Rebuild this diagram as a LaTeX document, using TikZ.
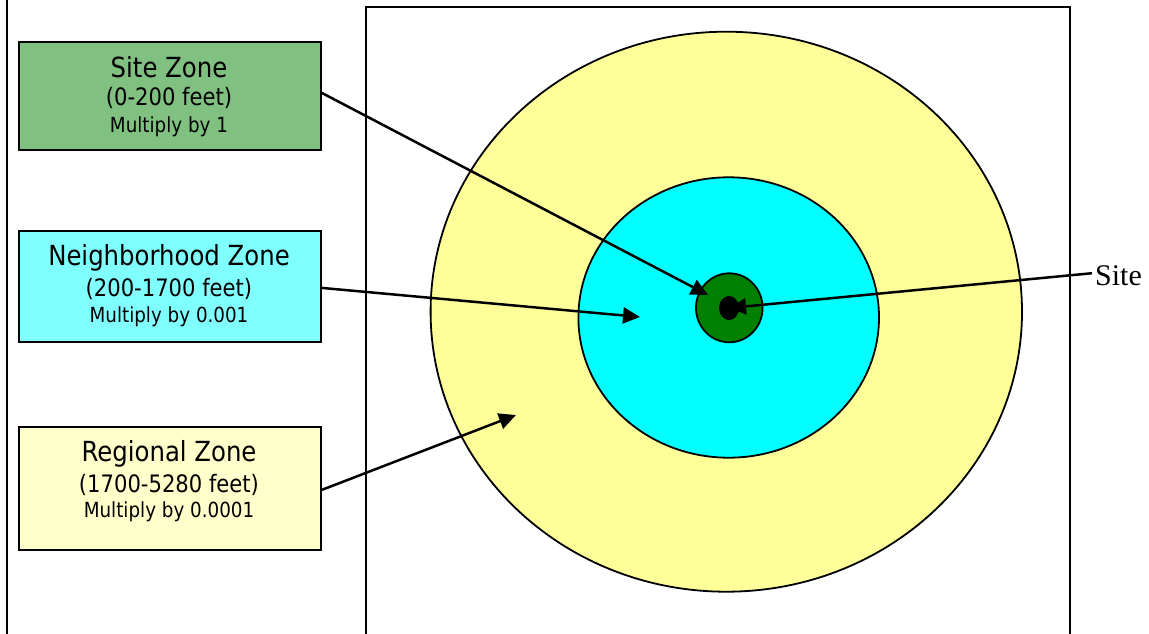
\documentclass[tikz,border=0pt]{standalone}
\usepackage{fontspec}
\setmainfont{Liberation Serif}
\newfontfamily\tah[FakeStretch=0.88]{DejaVu Sans}
\usetikzlibrary{arrows.meta,shapes.geometric}
\definecolor{sitebox}{HTML}{80C080}
\definecolor{neighbox}{HTML}{80FFFF}
\definecolor{regbox}{HTML}{FFFFCC}
\definecolor{regfill}{HTML}{FFFF99}
\definecolor{neighfill}{HTML}{00FFFF}
\definecolor{sitefill}{HTML}{008000}
\begin{document}
\begin{tikzpicture}[x=1pt,y=-1pt,
  zonebox/.style={draw=black, line width=1.8pt, minimum width=302pt, inner sep=0pt, anchor=north west},
  ring/.style={ellipse, draw=black, line width=1.8pt, inner sep=0pt},
  lineA/.style={anchor=base, inner sep=0pt, font=\tah\fontsize{27.7}{30}\selectfont},
  lineB/.style={anchor=base, inner sep=0pt, font=\tah\fontsize{24}{26}\selectfont},
  lineC/.style={anchor=base, inner sep=0pt, font=\tah\fontsize{20.8}{23}\selectfont},
  arr/.style={line width=2.5pt, -{Triangle[length=17pt,width=16pt]}},
  frame/.style={line width=1.9pt}]
\useasboundingbox (0,0) rectangle (1149,634);
\fill[white] (0,0) rectangle (1149,634);
% frame lines
\draw[frame] (7,-5) -- (7,640);
\draw[frame] (366,640) -- (366,7) -- (1070,7) -- (1070,640);
% rings
\node[ring, fill=regfill, minimum width=591.4pt, minimum height=560pt] (regional) at (726.3,311.7) {};
\node[ring, fill=neighfill, minimum width=300.6pt, minimum height=280.4pt] (neigh) at (728.7,317.5) {};
\node[ring, fill=sitefill, minimum width=66.6pt, minimum height=69pt] (sitering) at (729.3,307.8) {};
\node[ellipse, fill=black, inner sep=0pt, minimum width=20pt, minimum height=24pt] (dot) at (729,308) {};
% boxes
\node[zonebox, fill=sitebox, minimum height=108pt] (siteb) at (18,41) {};
\node[zonebox, fill=neighbox, minimum height=111pt] (neighb) at (18,230) {};
\node[zonebox, fill=regbox, minimum height=123pt] (regb) at (18,426) {};
% texts
\node[lineA] (s1) at (169,77.7) {Site Zone};
\node[lineB] (s2) at (169,106) {(0-200 feet)};
\node[lineC] (s3) at (169,132.7) {Multiply by 1};
\node[lineA] (n1) at (169,265.7) {Neighborhood Zone};
\node[lineB] (n2) at (169,296) {(200-1700 feet)};
\node[lineC] (n3) at (169,322.3) {Multiply by 0.001};
\node[lineA] (r1) at (169,461.7) {Regional Zone};
\node[lineB] (r2) at (169,492) {(1700-5280 feet)};
\node[lineC] (r3) at (169,517.7) {Multiply by 0.0001};
\node[anchor=base west, inner sep=0pt, font=\fontsize{30}{32}\selectfont] (site) at (1095,285) {Site};
% arrow targets
\coordinate (tA) at (708,295);
\coordinate (tB) at (640,317);
\coordinate (tC) at (516,415);
% arrows
\draw[arr] ([yshift=3pt]siteb.east) -- (tA);
\draw[arr] ([yshift=-1.5pt]neighb.east) -- (tB);
\draw[arr] ([yshift=-1.5pt]regb.east) -- (tC);
\draw[arr] ([xshift=-3pt,yshift=2pt]site.west) -- (dot.center);
\end{tikzpicture}
\end{document}
